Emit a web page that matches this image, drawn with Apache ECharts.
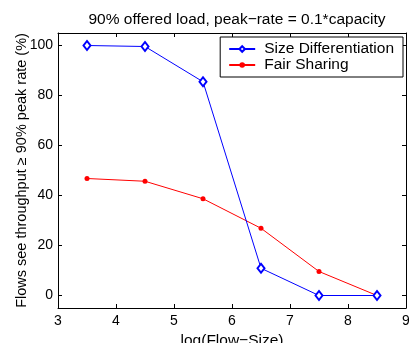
<!DOCTYPE html>
<html><head><meta charset="utf-8">
<script src="https://cdn.jsdelivr.net/npm/echarts@6/dist/echarts.min.js"></script>
<style>html,body{margin:0;padding:0;background:#fff}#c{width:409px;height:343px}</style>
</head><body><div id="c"></div>
<script>
const xValues = [3.5, 4.5, 5.5, 6.5, 7.5, 8.5];
const sizeDiff = [100, 99.6, 85.5, 10.9, 0, 0];
const fairSharing = [46.8, 45.7, 38.7, 26.9, 9.6, 0];
const seriesNames = ['Size Differentiation', 'Fair Sharing'];
const yTicks = [0, 20, 40, 60, 80, 100];
const titleText = '90% offered load, peak\u2212rate = 0.1*capacity';
const xName = 'log(Flow\u2212Size)';
const yName = 'Flows see throughput \u2265 90% peak rate (%)';

const font = 'Liberation Sans, Arial, sans-serif';
const chart = echarts.init(document.getElementById('c'), null, {renderer: 'canvas'});
const line = {show: true, onZero: false, lineStyle: {color: '#000', width: 1}};
const tick = {show: true, inside: true, length: 4, lineStyle: {color: '#000'}};
chart.setOption({
  animation: false,
  title: {text: titleText, left: 232, top: 7, textAlign: 'center',
    textStyle: {fontFamily: font, fontSize: 15.5, fontWeight: 'normal', color: '#000'}},
  grid: {left: 58, right: 3, top: 33, bottom: 35, containLabel: false, outerBoundsMode: 'none'},
  legend: {
    right: 6, top: 37, orient: 'vertical', itemGap: 0,
    backgroundColor: '#fff', borderColor: '#000', borderWidth: 1, borderRadius: 0,
    padding: [4, 9, 4, 8], itemWidth: 26, itemHeight: 7,
    textStyle: {fontFamily: font, fontSize: 15.5, color: '#000', lineHeight: 16, padding: [0, 0, 0, 4]},
    data: seriesNames
  },
  xAxis: [
    {type: 'value', min: 3, max: 9, interval: 1, position: 'bottom',
      name: xName, nameLocation: 'middle', nameGap: 19,
      nameTextStyle: {fontFamily: font, fontSize: 15.5, color: '#000'},
      axisLine: line, axisTick: tick, splitLine: {show: false},
      axisLabel: {fontFamily: font, fontSize: 14, color: '#000', margin: 6}},
    {type: 'value', min: 3, max: 9, interval: 1, position: 'top',
      axisLine: line, axisTick: tick, splitLine: {show: false},
      axisLabel: {show: false}}
  ],
  yAxis: [
    {type: 'value', min: -5, max: 105, position: 'left',
      name: yName, nameLocation: 'middle', nameGap: 29, nameMoveOverlap: false,
      nameTextStyle: {fontFamily: font, fontSize: 14.5, color: '#000'},
      axisLine: line, splitLine: {show: false},
      axisTick: Object.assign({customValues: yTicks}, tick),
      axisLabel: {fontFamily: font, fontSize: 14, color: '#000', margin: 5, customValues: yTicks}},
    {type: 'value', min: -5, max: 105, position: 'right',
      axisLine: line, splitLine: {show: false},
      axisTick: Object.assign({customValues: yTicks}, tick),
      axisLabel: {show: false, customValues: yTicks}}
  ],
  series: [
    {name: seriesNames[0], type: 'line', xAxisIndex: 0, yAxisIndex: 0,
     data: xValues.map((x, i) => [x, sizeDiff[i]]),
     symbol: 'emptyDiamond', symbolSize: [7, 9], showAllSymbol: true,
     itemStyle: {color: '#0000ff', borderColor: '#0000ff', borderWidth: 1},
     lineStyle: {color: '#0000ff', width: 1}, emphasis: {disabled: true},
     z: 3},
    {name: seriesNames[1], type: 'line', xAxisIndex: 0, yAxisIndex: 0,
     data: xValues.map((x, i) => [x, fairSharing[i]]),
     symbol: 'circle', symbolSize: 5, showAllSymbol: true,
     itemStyle: {color: '#ff0000', borderColor: '#ff0000', borderWidth: 0},
     lineStyle: {color: '#ff0000', width: 1}, emphasis: {disabled: true},
     z: 2}
  ]
});
</script></body></html>
